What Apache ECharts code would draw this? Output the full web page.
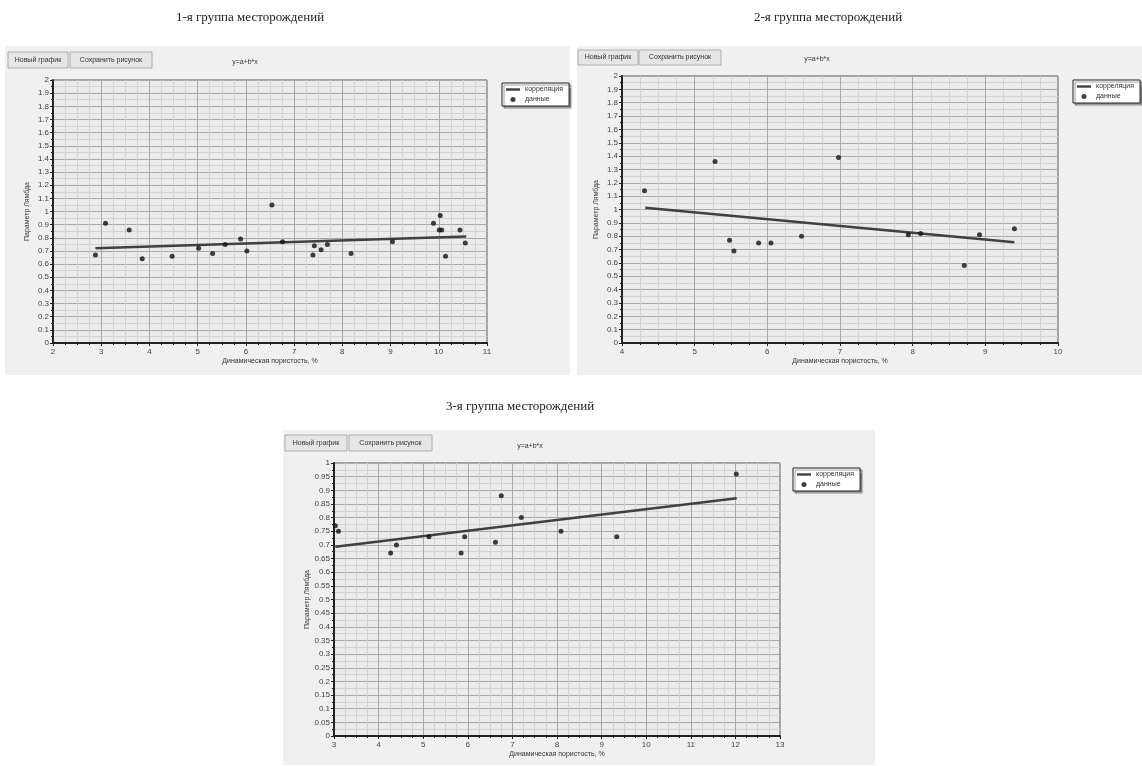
<!DOCTYPE html>
<html><head><meta charset="utf-8">
<script src="https://cdn.jsdelivr.net/npm/echarts@6/dist/echarts.min.js"></script>
<style>html,body{margin:0;padding:0;background:#fff}#c{width:1142px;height:766px}</style>
</head><body><div id="c"></div>
<script>
const titles = ['1-я группа месторождений','2-я группа месторождений','3-я группа месторождений'];
const xName = 'Динамическая пористость, %';
const yName = 'Параметр Лямбда';
const legendNames = ['корреляция','данные'];
const formula = 'y=a+b*x';
const btn1 = 'Новый график', btn2 = 'Сохранить рисунок';

const data1 = [[2.88,0.67],[3.09,0.91],[3.58,0.86],[3.85,0.64],[4.47,0.66],[5.02,0.72],[5.31,0.68],[5.57,0.75],[5.89,0.79],[6.02,0.70],[6.54,1.05],[6.76,0.77],[7.39,0.67],[7.42,0.74],[7.56,0.71],[7.69,0.75],[8.18,0.68],[9.04,0.77],[9.89,0.91],[10.03,0.97],[10.01,0.86],[10.06,0.86],[10.14,0.66],[10.44,0.86],[10.55,0.76]];
const corr1 = [[2.88,0.72],[10.57,0.81]];

const data2 = [[4.31,1.14],[5.28,1.36],[5.48,0.77],[5.54,0.69],[5.88,0.75],[6.05,0.75],[6.47,0.80],[6.98,1.39],[7.94,0.81],[8.11,0.82],[8.71,0.58],[8.92,0.81],[9.40,0.855]];
const corr2 = [[4.32,1.013],[9.40,0.755]];

const data3 = [[3.03,0.77],[3.10,0.75],[4.27,0.67],[4.40,0.70],[5.13,0.73],[5.85,0.67],[5.93,0.73],[6.62,0.71],[6.75,0.88],[7.20,0.80],[8.09,0.75],[9.34,0.73],[12.02,0.96]];
const corr3 = [[3.03,0.693],[12.03,0.871]];

const xRanges = [[2,11],[4,10],[3,13]];
const yRanges = [[0,2,0.1],[0,2,0.1],[0,1,0.05]];

const grids = [
  {left:53, top:80, width:434, height:263},
  {left:622, top:76, width:436, height:267},
  {left:334, top:463, width:446, height:273}
];
const panels = [
  {x:5,y:46,w:565,h:329, b1:[8,52,60,16], b2:[70,52,82,16], f:[245,62], leg:[502,83]},
  {x:577,y:46,w:565,h:329, b1:[578,50,60,15], b2:[639,50,82,15], f:[817,59], leg:[1073,80]},
  {x:283,y:430,w:592,h:335, b1:[285,435,62,16], b2:[349,435,83,16], f:[530,446], leg:[793,468]}
];
const titlePos = [[250,18],[828,18],[520,407]];

const lbl = {fontSize:8, color:'#444', fontFamily:'Liberation Sans'};
const xAxes = [], yAxes = [], series = [], legends = [], graphics = [];
panels.forEach((p,i)=>{
  graphics.push({type:'rect', z:-10, shape:{x:p.x,y:p.y,width:p.w,height:p.h}, style:{fill:'#f0f0f0'}});
  [[p.b1,btn1],[p.b2,btn2]].forEach(([b,t])=>{
    graphics.push({type:'rect', shape:{x:b[0],y:b[1],width:b[2],height:b[3]}, style:{fill:'#e6e6e6', stroke:'#adadad', lineWidth:1}});
    graphics.push({type:'text', x:b[0]+b[2]/2, y:b[1]+b[3]/2, style:{text:t, fontSize:7, fill:'#333', align:'center', verticalAlign:'middle', fontFamily:'Liberation Sans'}});
  });
  graphics.push({type:'text', x:p.f[0], y:p.f[1], style:{text:formula, fontSize:7, fill:'#333', align:'center', verticalAlign:'middle', fontFamily:'Liberation Sans'}});
  graphics.push({type:'text', x:titlePos[i][0], y:titlePos[i][1], style:{text:titles[i], fontSize:13, fill:'#222', align:'center', verticalAlign:'middle', fontFamily:'Liberation Serif'}});
  xAxes.push({type:'value', gridIndex:i, min:xRanges[i][0], max:xRanges[i][1], interval:1,
    name:xName, nameLocation:'middle', nameGap:15, nameTextStyle:{fontSize:7, color:'#333', fontFamily:'Liberation Sans'},
    axisLine:{lineStyle:{color:'#222', width:2}}, axisTick:{length:3, lineStyle:{color:'#222'}},
    minorTick:{show:true, splitNumber:4, length:2, lineStyle:{color:'#222'}},
    axisLabel:Object.assign({margin:5}, lbl),
    splitLine:{lineStyle:{color:'#a8a8a8', width:1}},
    minorSplitLine:{show:true, lineStyle:{color:'#d2d2d2', width:1}}});
  yAxes.push({type:'value', gridIndex:i, min:yRanges[i][0], max:yRanges[i][1], interval:yRanges[i][2],
    name:yName, nameLocation:'middle', nameGap:22, nameRotate:90, nameTextStyle:{fontSize:7, color:'#333', fontFamily:'Liberation Sans'},
    axisLine:{lineStyle:{color:'#222', width:2}}, axisTick:{length:3, lineStyle:{color:'#222'}},
    minorTick:{show:true, splitNumber:2, length:2, lineStyle:{color:'#222'}},
    axisLabel:Object.assign({margin:4}, lbl),
    splitLine:{lineStyle:{color:'#a8a8a8', width:1}},
    minorSplitLine:{show:true, lineStyle:{color:'#d2d2d2', width:1}}});
  legends.push({left:p.leg[0], top:p.leg[1], orient:'vertical',
    data:[{name:legendNames[0], icon:'path://M0,0H14V2.4H0Z'},{name:legendNames[1], icon:'circle'}],
    backgroundColor:'#fff', borderColor:'#222', borderWidth:1, padding:[3,6,3,4], itemGap:3,
    itemWidth:14, itemHeight:5, shadowColor:'rgba(0,0,0,0.4)', shadowBlur:1, shadowOffsetX:2, shadowOffsetY:2,
    textStyle:{fontSize:7, color:'#333', fontFamily:'Liberation Sans'}});
});
[[corr1,data1],[corr2,data2],[corr3,data3]].forEach(([c,d],i)=>{
  series.push({name:legendNames[0], type:'line', xAxisIndex:i, yAxisIndex:i, data:c, symbol:'none',
    lineStyle:{color:'#404040', width:2.5}, itemStyle:{color:'#404040'}, silent:true, z:3});
  series.push({name:legendNames[1], type:'scatter', xAxisIndex:i, yAxisIndex:i, data:d, symbolSize:5,
    itemStyle:{color:'#111'}, z:4});
});
const chart = echarts.init(document.getElementById('c'), null, {renderer:'canvas'});
chart.setOption({
  animation:false,
  grid: grids.map(g=>Object.assign({show:true, backgroundColor:'#ebebeb', borderColor:'#555', borderWidth:1}, g)),
  xAxis:xAxes, yAxis:yAxes, series:series, legend:legends,
  graphic:{elements:graphics}
});
</script></body></html>
